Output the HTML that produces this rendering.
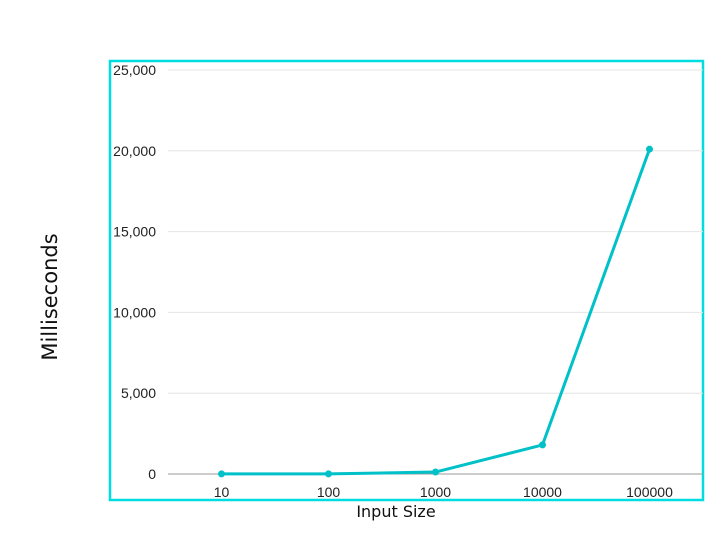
<!DOCTYPE html>
<html><head><meta charset="utf-8"><style>
body{margin:0;background:#fff;width:724px;height:531px;overflow:hidden;font-family:"Liberation Sans",sans-serif}
</style></head><body>
<svg width="724" height="531">
<rect x="110" y="61" width="593" height="439" fill="none" stroke="#00dde0" stroke-width="2.5"/>
<g id="grid"></g><g id="yt"></g><g id="xt"></g><g id="series"></g>
<text x="57" y="297" transform="rotate(-90 57 297)" text-anchor="middle" font-size="21" fill="#111" font-family="DejaVu Sans, sans-serif">Milliseconds</text>
<text x="396" y="517" text-anchor="middle" font-size="16" fill="#111" font-family="DejaVu Sans, sans-serif">Input Size</text>
</svg>
<script>
const categories=["10","100","1000","10000","100000"];
const values=[5,8,120,1800,20100];
const yTicks=[0,5000,10000,15000,20000,25000];
const yTickLabels=["0","5,000","10,000","15,000","20,000","25,000"];
const NS="http://www.w3.org/2000/svg";
const L=168,R=703,T=70,B=474,yMax=25000;
const y=v=>B-(v/yMax)*(B-T);
const bw=(R-L)/categories.length;
const x=i=>L+bw*(i+0.5);
function mk(t,a,p){const e=document.createElementNS(NS,t);for(const k in a)e.setAttribute(k,a[k]);p.appendChild(e);return e;}
const g=document.getElementById('grid'),yt=document.getElementById('yt'),xt=document.getElementById('xt'),s=document.getElementById('series');
yTicks.forEach((v,i)=>{
 const l=mk('line',{x1:L,x2:R,y1:y(v),y2:y(v),stroke:v===0?'#999':'#e4e4e4','stroke-width':1},g);
 
 
 const t=mk('text',{x:156,y:y(v)+5,'text-anchor':'end','font-size':14,fill:'#222'},yt);
 t.textContent=yTickLabels[i];
 
 
});
categories.forEach((c,i)=>{
 const t=mk('text',{x:x(i),y:497,'text-anchor':'middle','font-size':14,fill:'#222'},xt);
 t.textContent=c;
 
 
});
const p=mk('polyline',{points:values.map((v,i)=>x(i)+','+y(v)).join(' '),fill:'none',stroke:'#00c0c8','stroke-width':3,'stroke-linejoin':'round'},s);


values.forEach((v,i)=>{
 const c=mk('circle',{cx:x(i),cy:y(v),r:3.5,fill:'#00c0c8'},s);
 
 
});
</script>
</body></html>
